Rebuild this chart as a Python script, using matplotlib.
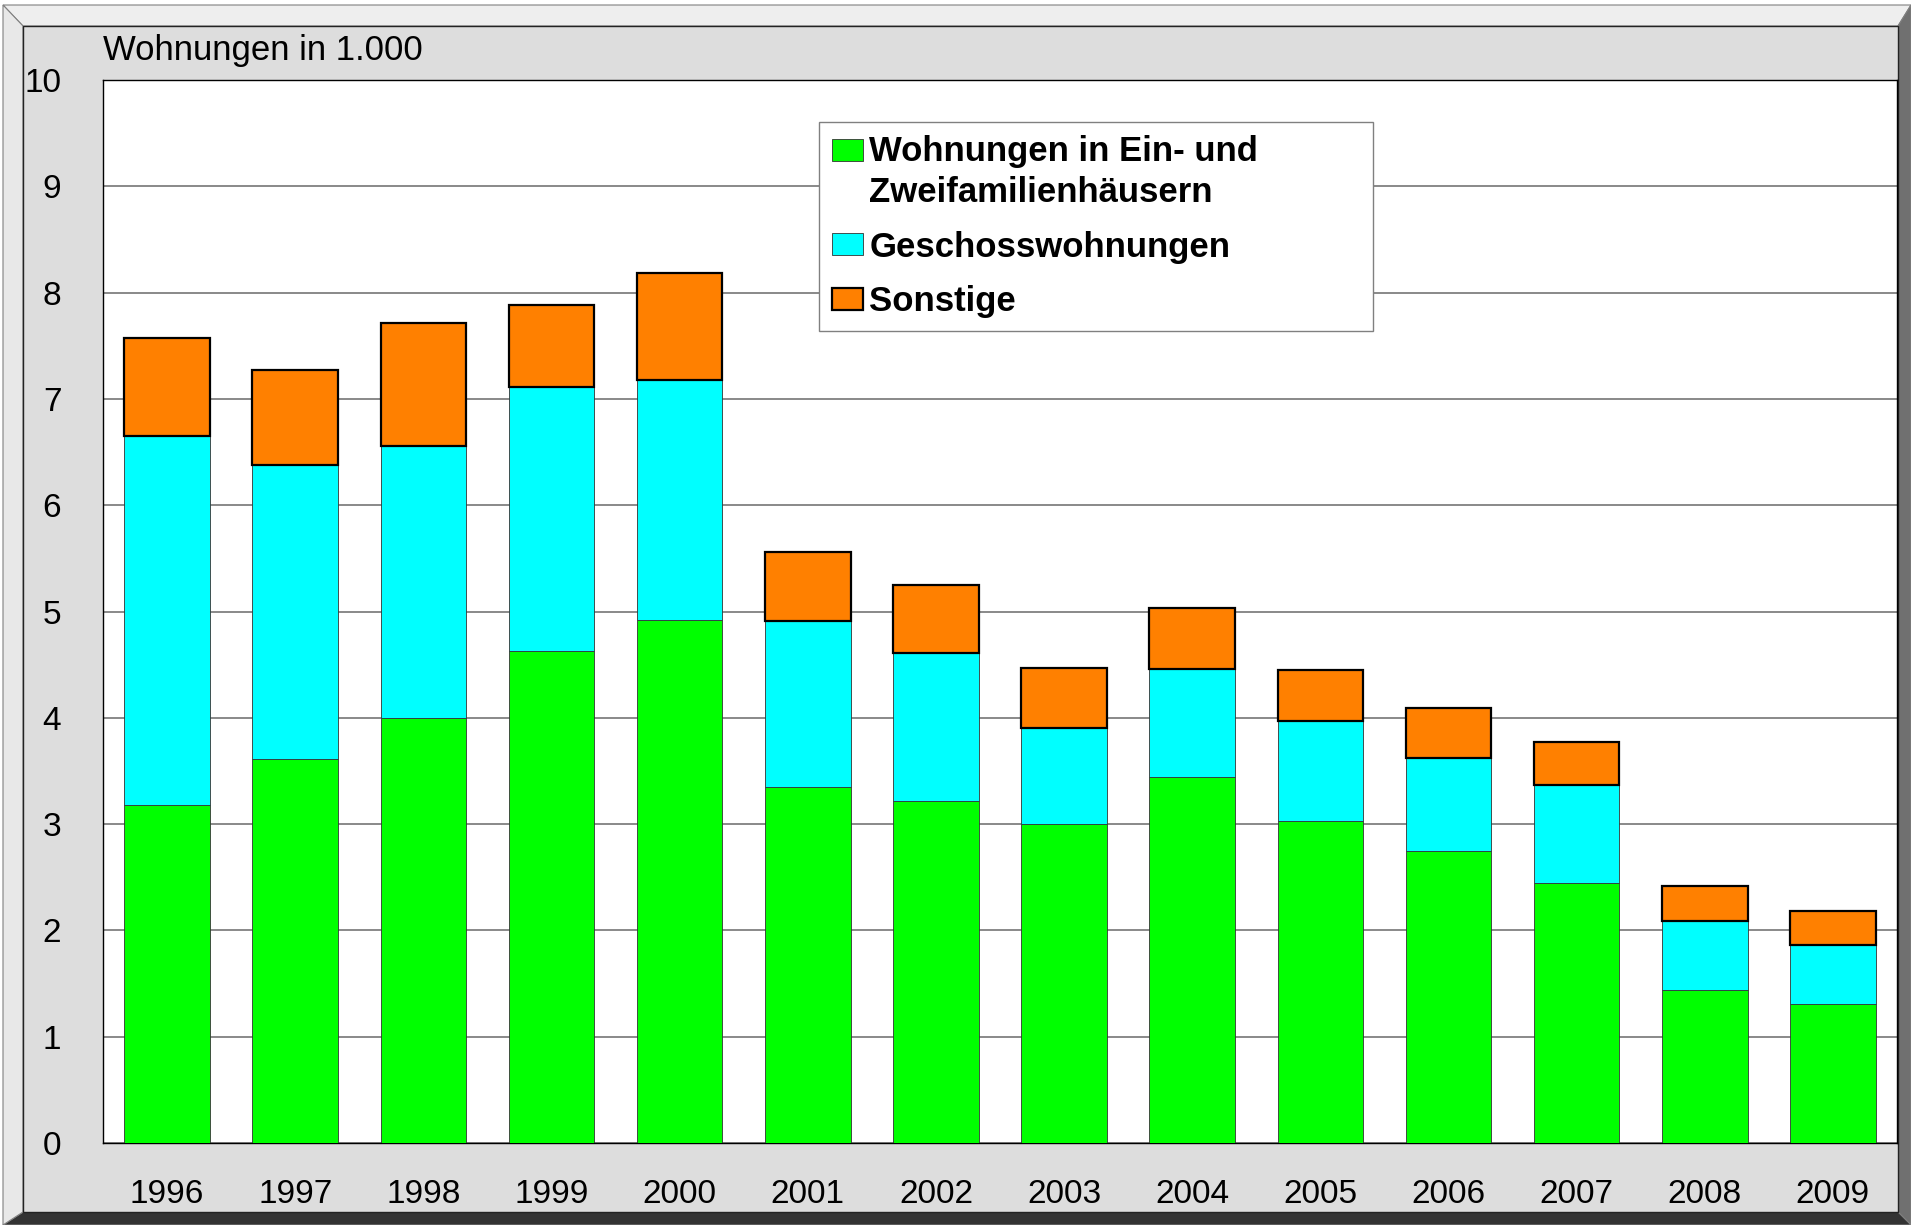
import matplotlib
matplotlib.use("Agg")
import matplotlib.pyplot as plt
import numpy as np
from matplotlib.patches import Polygon, Rectangle
from matplotlib.legend_handler import HandlerPatch

plt.rcParams["font.family"] = ["Liberation Sans", "DejaVu Sans"]

# data (Wohnungen in 1.000)
years = ["1996", "1997", "1998", "1999", "2000", "2001", "2002",
         "2003", "2004", "2005", "2006", "2007", "2008", "2009"]
efh = [3.18, 3.61, 4.00, 4.63, 4.92, 3.35, 3.22, 3.00, 3.44, 3.03, 2.75, 2.45, 1.44, 1.31]
geschoss = [3.47, 2.77, 2.56, 2.48, 2.26, 1.56, 1.39, 0.90, 1.02, 0.94, 0.87, 0.92, 0.65, 0.55]
sonstige = [0.92, 0.89, 1.15, 0.77, 1.00, 0.65, 0.64, 0.57, 0.57, 0.48, 0.47, 0.40, 0.33, 0.32]

labels = ["Wohnungen in Ein- und\nZweifamilienhäusern", "Geschosswohnungen", "Sonstige"]
colors = ["#00ff00", "#00ffff", "#ff8000"]

W, H = 1911, 1225

def fx(x):
    return x / W

def fy(y):
    return 1 - y / H

def poly(pts, color, ec="#808080", lw=0.8):
    p = Polygon([(fx(a), fy(b)) for a, b in pts], closed=True,
                transform=fig.transFigure, facecolor=color, edgecolor=ec, lw=lw, zorder=-1)
    fig.patches.append(p)

fig = plt.figure(figsize=(W / 100, H / 100), dpi=100)

# bevelled frame
poly([(3, 5), (1911, 5), (1898, 26), (23, 26)], "#eeeeee")
poly([(1898, 26), (1911, 5), (1911, 1225), (1898, 1212)], "#707070")
poly([(23, 1212), (1898, 1212), (1911, 1225), (3, 1225)], "#333333")
poly([(3, 5), (23, 26), (23, 1212), (3, 1225)], "#e8e8e8")
poly([(23, 26), (1898, 26), (1898, 1212), (23, 1212)], "#dddddd", ec="#222222", lw=1.0)

ax = fig.add_axes([fx(103), fy(1143), fx(1897) - fx(103), fy(80) - fy(1143)])
ax.set_facecolor("white")

x = np.arange(len(years))
bw = 0.667
b1 = np.array(efh)
b2 = b1 + np.array(geschoss)
bars1 = ax.bar(x, efh, bw, color=colors[0], edgecolor="#333333", lw=0.6, zorder=3)
bars2 = ax.bar(x, geschoss, bw, bottom=b1, color=colors[1], edgecolor="#333333", lw=0.6, zorder=3)
bars3 = ax.bar(x, sonstige, bw, bottom=b2, color=colors[2], edgecolor="black", lw=1.6, zorder=3)

ax.set_xlim(-0.5, len(years) - 0.5)
ax.set_ylim(0, 10)
ax.set_yticks(range(0, 11))
ax.set_xticks(x)
ax.set_xticklabels(years)
ax.yaxis.grid(True, color="#808080", lw=1.3, zorder=0)
ax.set_axisbelow(True)
ax.tick_params(axis="both", length=0, labelsize=24)
ax.tick_params(axis="y", pad=30)
ax.tick_params(axis="x", pad=26)
for s in ax.spines.values():
    s.set_color("black")
    s.set_linewidth(1.0)

fig.text(fx(103), fy(60), "Wohnungen in 1.000", fontsize=25, va="baseline", ha="left")

# legend patch for the two-line label sits on the first line
def first_line_patch(legend, orig_handle, xdescent, ydescent, width, height, fontsize):
    return Rectangle((-xdescent, -ydescent + 0.66 * fontsize), width, height)

def plain_patch(legend, orig_handle, xdescent, ydescent, width, height, fontsize):
    return Rectangle((-xdescent, -ydescent), width, height)

handles = [bars1.patches[0], bars2.patches[0], bars3.patches[0]]
leg = ax.legend(handles, labels, loc="upper left", bbox_to_anchor=(0.399, 0.5, 0.3088, 0.4605),
                mode="expand", borderaxespad=0, fancybox=False, framealpha=1, edgecolor="#808080",
                prop={"weight": "bold", "size": 25}, handlelength=0.9, handleheight=0.58,
                handletextpad=0.17, labelspacing=0.62, borderpad=0.38,
                handler_map={handles[0]: HandlerPatch(patch_func=first_line_patch),
                             handles[1]: HandlerPatch(patch_func=plain_patch),
                             handles[2]: HandlerPatch(patch_func=plain_patch)})
leg.get_frame().set_linewidth(1.0)
leg.get_texts()[0].set_linespacing(1.3)

fig.savefig("out.png", dpi=100)
